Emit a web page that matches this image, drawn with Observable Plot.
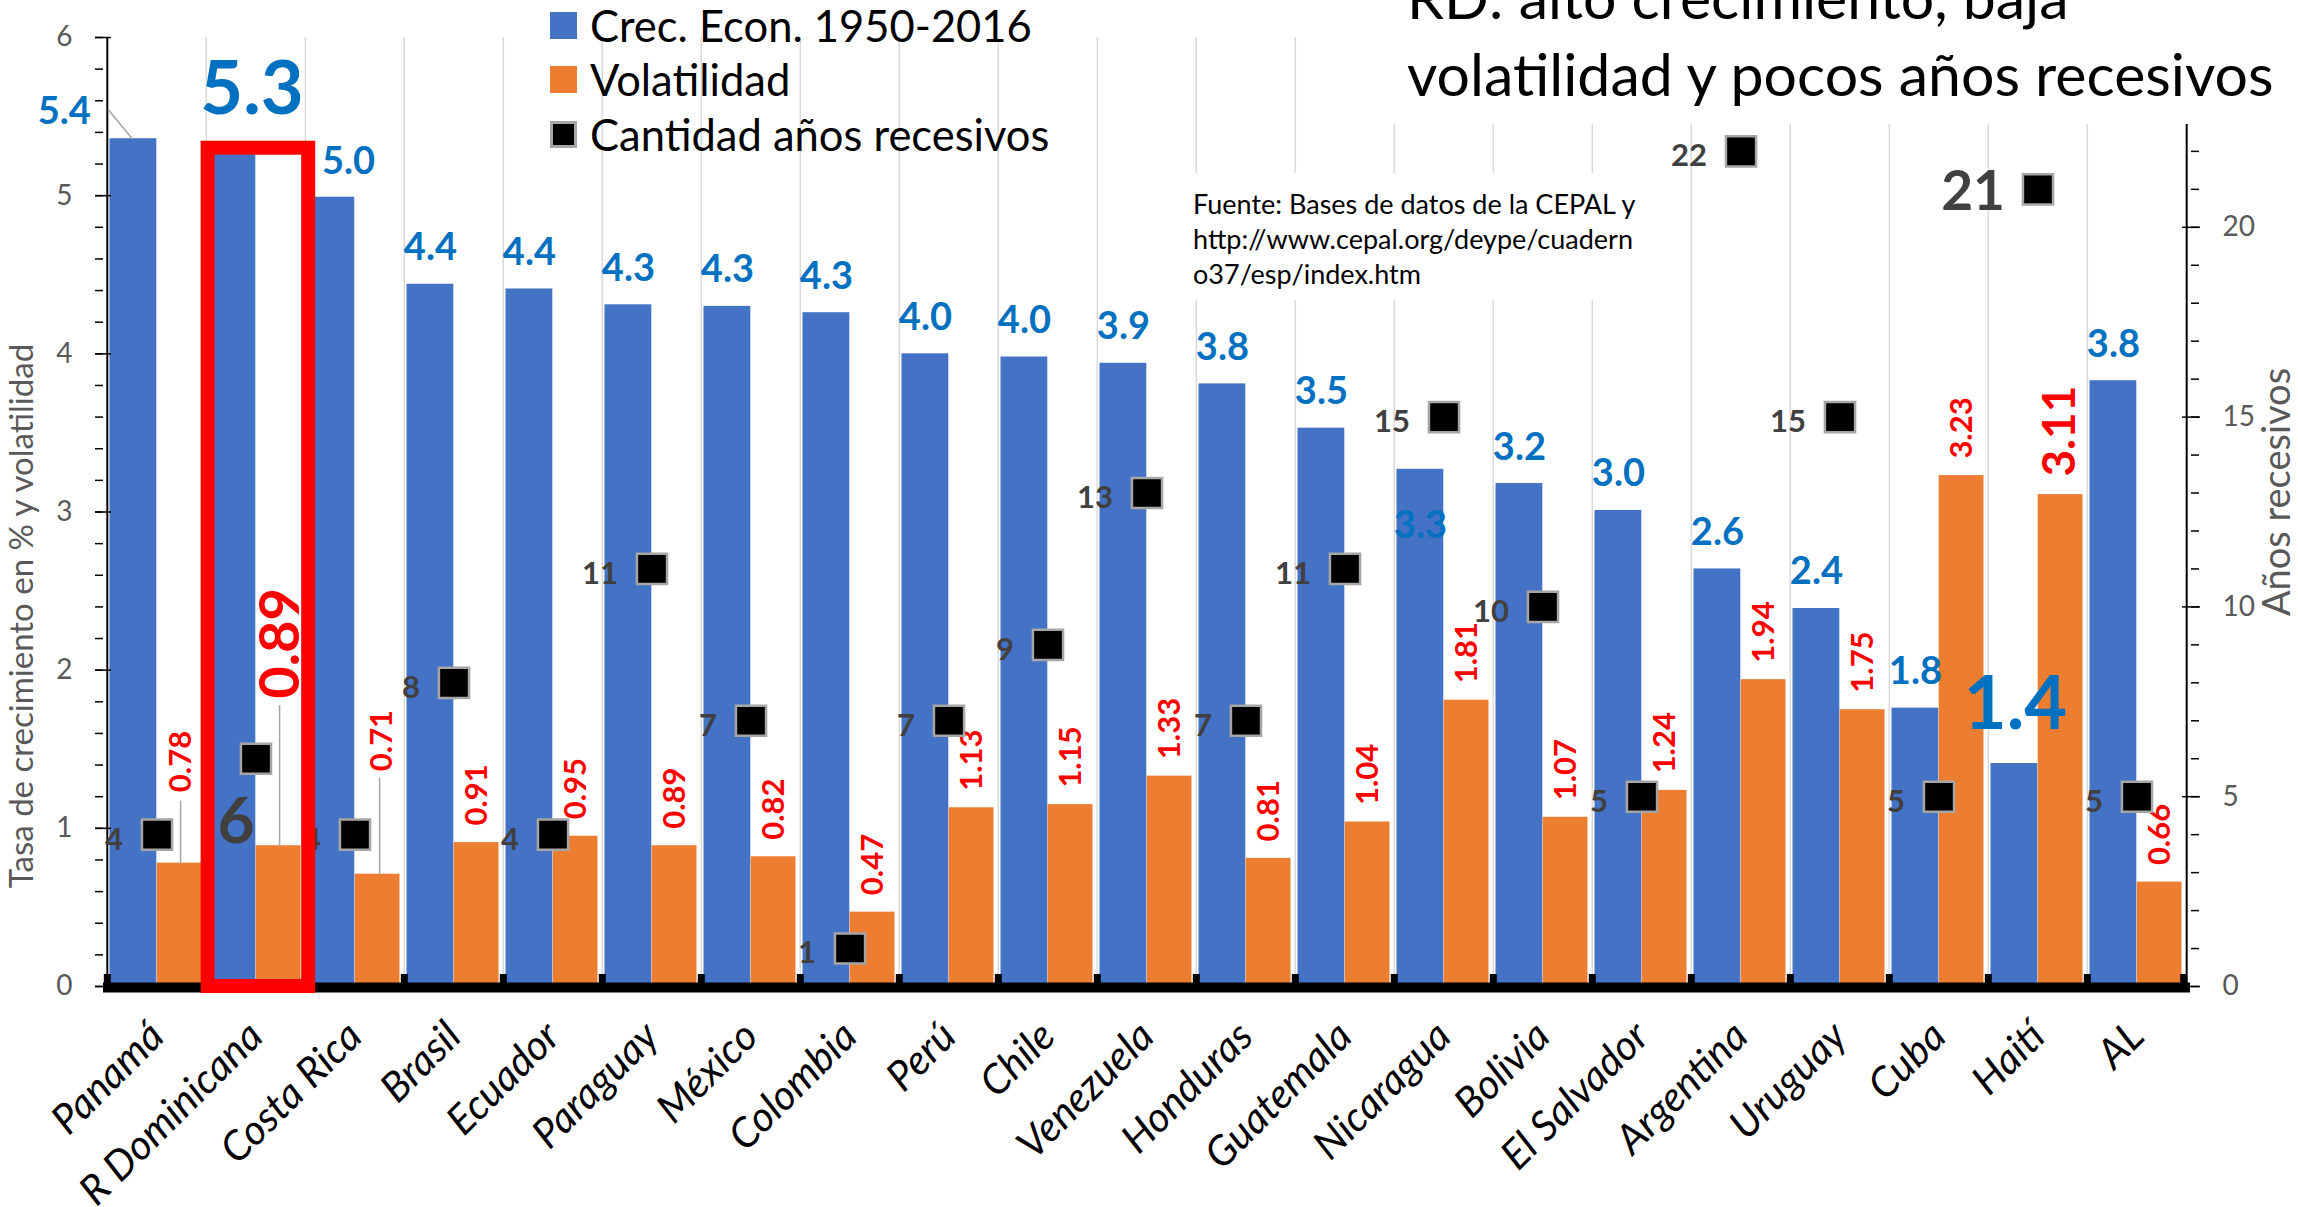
<!DOCTYPE html>
<html lang="es">
<head>
<meta charset="utf-8">
<script src="https://cdn.jsdelivr.net/npm/d3@7"></script>
<script src="https://cdn.jsdelivr.net/npm/@observablehq/plot@0.6"></script>
<style>
  html, body { margin: 0; padding: 0; background: #fff; }
  #wrap { position: relative; width: 2298px; height: 1207px; overflow: hidden; font-family: Lato, "Open Sans", sans-serif; }
  #chart { position: absolute; left: 0; top: 0; }
  #legend { position: absolute; left: 550px; top: 0; }
  .li { position: absolute; left: 0; display: flex; align-items: center; height: 27px; white-space: nowrap; font-size: 43.5px; line-height: 27px; color: #000; }
  .sw { width: 27px; height: 27px; margin-right: 13px; box-sizing: border-box; flex: none; }
  #title { position: absolute; left: 1378px; top: 0; width: 920px; height: 124px; background: #fff; overflow: hidden; }
  #title .t { position: absolute; left: 29px; top: -42px; font-size: 59px; line-height: 77px; white-space: nowrap; color: #000; }
  #source { position: absolute; left: 1183px; top: 173px; width: 470px; height: 127px; background: #fff; box-sizing: border-box; padding: 13px 0 0 10px; font-size: 27px; line-height: 35px; color: #000; white-space: nowrap; }
</style>
</head>
<body>
<div id="wrap">
  <div id="chart"></div>
  <div id="legend"></div>
  <div id="title"><div class="t"></div></div>
  <div id="source"></div>
</div>
<script>
// ---------- data ----------
const countries = ["Panamá","R Dominicana","Costa Rica","Brasil","Ecuador","Paraguay","México","Colombia","Perú","Chile","Venezuela","Honduras","Guatemala","Nicaragua","Bolivia","El Salvador","Argentina","Uruguay","Cuba","Haití","AL"];
const growth = [5.36,5.30,4.99,4.44,4.41,4.31,4.30,4.26,4.00,3.98,3.94,3.81,3.53,3.27,3.18,3.01,2.64,2.39,1.76,1.41,3.83];
const volatility = [0.78,0.89,0.71,0.91,0.95,0.89,0.82,0.47,1.13,1.15,1.33,0.81,1.04,1.81,1.07,1.24,1.94,1.75,3.23,3.11,0.66];
const recessionYears = [4,6,4,8,4,11,7,1,7,9,13,7,11,15,10,5,22,15,5,21,5];
const leftTicks = [0,1,2,3,4,5,6];
const rightTicks = [0,5,10,15,20,25];
const seriesNames = ["Crec. Econ. 1950-2016","Volatilidad","Cantidad años recesivos"];
const titleLines = ["RD: alto crecimiento, baja","volatilidad y pocos años recesivos"];
const sourceLines = ["Fuente: Bases de datos de la CEPAL y","http://www.cepal.org/deype/cuadern","o37/esp/index.htm"];
const yLabelLeft = "Tasa de crecimiento en % y volatilidad";
const yLabelRight = "Años recesivos";

// ---------- styles ----------
const BLUE = "#4472C4", ORANGE = "#ED7D31", LBLUE = "#0070C0", RED = "#FF0000";
const YEARS = "#404040", AXIS = "#595959", GRID = "#D9D9D9", LEADER = "#A6A6A6";

const rows = countries.map((country, i) => ({country, growth: growth[i], vol: volatility[i], years: recessionYears[i]}));
const W = 2298, H = 1207, ML = 103, MR = W - 2190, MT = 37, MB = H - 986;
const plotH = H - MT - MB;
const bw = (W - ML - MR) / countries.length;
const blueDx = (2.5 + bw / 2) / 2 - bw / 2;
const orangeDx = (bw / 2 + bw - 4.5) / 2 - bw / 2;
const toLeft = v => v * leftTicks.at(-1) / rightTicks.at(-1);
const only = (...names) => rows.filter(d => names.includes(d.country));
const except = (...names) => rows.filter(d => !names.includes(d.country));
const leader = {draw(ctx, l) { ctx.moveTo(0, 0); ctx.lineTo(0, -l); }};
const fmtG = d => d.growth.toFixed(1);
const fmtV = d => d.vol.toFixed(2);
const fmtY = d => String(d.years);
const minorLeft = d3.range(0, 31).map(i => i / 5);
const minorRight = d3.range(0, 26);

const blueText = {x: "country", y: "growth", text: fmtG, lineAnchor: "bottom", fill: LBLUE, fontWeight: "bold", fontSize: 38};
const redText = {x: "country", y: "vol", text: fmtV, rotate: -90, textAnchor: "start", lineAnchor: "middle", fill: RED, fontWeight: "bold", fontSize: 31};
const yearText = {x: "country", y: d => toLeft(d.years), text: fmtY, textAnchor: "end", lineAnchor: "middle", fill: YEARS, fontWeight: "bold", fontSize: 31};
const leaderOpt = {x: "country", anchor: "start", shape: leader, stroke: LEADER, strokeWidth: 1.5};

const chart = Plot.plot({
  width: W, height: H,
  marginTop: MT, marginBottom: MB, marginLeft: ML, marginRight: MR,
  style: {fontFamily: "Lato, 'Open Sans', sans-serif", background: "#fff", overflow: "visible"},
  x: {type: "band", domain: countries, padding: 0, axis: null},
  y: {domain: [0, 6], axis: null, label: null},
  marks: [
    // category separators
    Plot.ruleX(countries.slice(1), {x: d => d, dx: -bw / 2, stroke: GRID, strokeWidth: 1.5}),
    // bars
    Plot.barY(rows, {x: "country", y: "growth", fill: BLUE, insetLeft: 2.5, insetRight: bw / 2}),
    Plot.barY(rows, {x: "country", y: "vol", fill: ORANGE, insetLeft: bw / 2, insetRight: 4.5}),
    // axis lines
    Plot.ruleX([countries[0]], {x: d => d, dx: -bw / 2, stroke: "#000", strokeWidth: 2}),
    Plot.ruleX([countries.at(-1)], {x: d => d, dx: bw / 2, stroke: "#000", strokeWidth: 2}),
    Plot.ruleY([0], {stroke: "#000", strokeWidth: 10, dy: 1}),
    Plot.ruleX(countries, {x: d => d, dx: -bw / 2, insetTop: plotH - 12, stroke: "#000", strokeWidth: 7}),
    Plot.ruleX([countries.at(-1)], {x: d => d, dx: bw / 2 - 3, insetTop: plotH - 12, stroke: "#000", strokeWidth: 7}),
    // left axis
    Plot.axisY(leftTicks, {anchor: "left", tickSize: 16, dx: 8, fill: "none", stroke: "#000", strokeWidth: 1.5, label: null}),
    Plot.axisY(minorLeft, {anchor: "left", tickSize: 8, fill: "none", stroke: "#000", strokeWidth: 1.5, label: null}),
    Plot.axisY(leftTicks, {anchor: "left", tickSize: 0, tickPadding: 31, fill: AXIS, fontSize: 28, tickFormat: d => String(d), label: null}),
    // right axis
    Plot.axisY(rightTicks, {anchor: "right", y: toLeft, tickSize: 18, dx: -9, fill: "none", stroke: "#000", strokeWidth: 1.5, label: null}),
    Plot.axisY(minorRight, {anchor: "right", y: toLeft, tickSize: 8, fill: "none", stroke: "#000", strokeWidth: 1.5, label: null}),
    Plot.axisY(rightTicks, {anchor: "right", y: toLeft, tickSize: 0, tickPadding: 32, fill: AXIS, fontSize: 28, tickFormat: d => String(d), label: null}),
    // axis titles
    Plot.text([yLabelLeft], {text: d => d, frameAnchor: "left", rotate: -90, dx: -81, dy: 104, fill: AXIS, fontSize: 33, textAnchor: "middle", lineAnchor: "middle"}),
    Plot.text([yLabelRight], {text: d => d, frameAnchor: "right", rotate: -90, dx: 87, dy: -20, fill: AXIS, fontSize: 38, textAnchor: "middle", lineAnchor: "middle"}),
    // category labels
    Plot.text(countries, {x: d => d, text: d => d, frameAnchor: "bottom", rotate: -45, textAnchor: "end", lineAnchor: "middle", dy: 43, fontSize: 41, fontStyle: "italic", fill: "#000"}),
    // leader lines
    Plot.vector(only("Panamá"), {...leaderOpt, y: "growth", dx: -24.7, length: 37.6, rotate: -39.6}),
    Plot.vector(only("Panamá"), {...leaderOpt, y: "vol", dx: orangeDx + 1, length: 62, rotate: 0}),
    Plot.vector(only("R Dominicana"), {...leaderOpt, y: "vol", dx: orangeDx + 1, length: 140, rotate: 0}),
    Plot.vector(only("Costa Rica"), {...leaderOpt, y: "vol", dx: orangeDx + 2, length: 96, rotate: 0}),
    // growth labels
    Plot.text(except("Panamá", "R Dominicana", "Costa Rica", "Nicaragua", "Haití"), {...blueText, dx: blueDx, dy: -24}),
    Plot.text(only("Panamá"), {...blueText, dx: -92.7, dy: -14.5}),
    Plot.text(only("R Dominicana"), {...blueText, dx: -4, dy: -34, fontSize: 74}),
    Plot.text(only("Costa Rica"), {...blueText, dx: -6.5, dy: -23}),
    Plot.text(only("Nicaragua"), {...blueText, dx: blueDx, dy: 69}),
    Plot.text(only("Haití"), {...blueText, dx: -22.5, dy: -34, fontSize: 74}),
    // volatility labels
    Plot.text(except("Panamá", "R Dominicana", "Costa Rica", "Haití"), {...redText, dx: orangeDx, dy: -17}),
    Plot.text(only("Panamá"), {...redText, dx: orangeDx + 1, dy: -71}),
    Plot.text(only("R Dominicana"), {...redText, dx: orangeDx + 2, dy: -147, fontSize: 56}),
    Plot.text(only("Costa Rica"), {...redText, dx: orangeDx + 4, dy: -103}),
    Plot.text(only("Haití"), {...redText, dx: orangeDx, dy: -18, fontSize: 46}),
    // recession years
    Plot.text(except("R Dominicana", "Haití"), {...yearText, dx: -34, dy: 5}),
    Plot.text(only("R Dominicana"), {...yearText, textAnchor: "middle", dx: -20, dy: 64, fontSize: 64}),
    Plot.text(only("Haití"), {...yearText, dx: -33, dy: 3, fontSize: 55}),
    Plot.dot(rows, {x: "country", y: d => toLeft(d.years), symbol: "square", r: 17, fill: "#000", stroke: LEADER, strokeWidth: 2.5}),
    // highlight box
    Plot.barY(only("R Dominicana"), {x: "country", y: "growth", fill: "none", stroke: RED, strokeWidth: 14, insetLeft: 1.6, insetRight: -3.2})
  ]
});
document.getElementById("chart").appendChild(chart);

// ---------- legend ----------
const legendColors = [BLUE, ORANGE, "#000"];
const legendTops = [12, 66, 121];
const legend = document.getElementById("legend");
seriesNames.forEach((name, i) => {
  const item = document.createElement("div");
  item.className = "li";
  item.style.top = legendTops[i] + "px";
  const sw = document.createElement("span");
  sw.className = "sw";
  sw.style.background = legendColors[i];
  if (i === 2) sw.style.border = "3px solid " + LEADER;
  const tx = document.createElement("span");
  tx.textContent = name;
  item.appendChild(sw); item.appendChild(tx);
  legend.appendChild(item);
});

// ---------- title & source ----------
const t = document.querySelector("#title .t");
titleLines.forEach(line => { const d = document.createElement("div"); d.textContent = line; t.appendChild(d); });
const s = document.getElementById("source");
sourceLines.forEach(line => { const d = document.createElement("div"); d.textContent = line; s.appendChild(d); });
</script>
</body>
</html>
